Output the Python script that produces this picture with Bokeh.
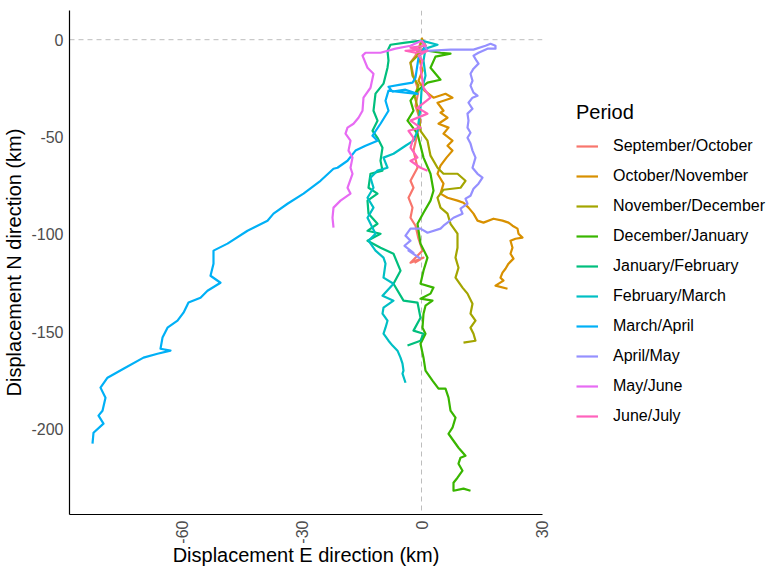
from bokeh.plotting import figure
from bokeh.layouts import row
from bokeh.models import Range1d, Span, Legend, LegendItem, FixedTicker
from bokeh.embed import file_html
from bokeh.resources import INLINE
import math

# Drift tracks: cumulative displacement (km) east (E) and north (N) per period
periods = ["September/October", "October/November", "November/December",
           "December/January", "January/February", "February/March",
           "March/April", "April/May", "May/June", "June/July"]
colors = ["#F8766D", "#D89000", "#A3A500", "#39B600", "#00BF7D",
          "#00BFC4", "#00B0F6", "#9590FF", "#E76BF3", "#FF62BC"]

sep_oct_e = [0, -1.5, -2.75, -2, -0.75, -1.5, -0.25, -2, -1, -2.75, -2, -3.25,
             -2.25, -2.75, -1.5, -0.75, 0.25, -2.75, 0.5, -1.75]
sep_oct_n = [-0.5, -8.2, -11.8, -18.5, -26.2, -34, -41.6, -57, -65.8, -72.5,
             -76.1, -81.2, -86.3, -91.5, -95.6, -102.3, -108.4, -114.6, -112, -114.6]

oct_nov_e = [0, 1, -0.75, 0.25, -0.75, 0.75, 3, 6, 7.75, 4,
             5.5, 4.75, 6.5, 4.25, 6.75, 5.5, 7.75, 6.5, 7.75, 6.25,
             4.75, 4, 5.5, 4.75, 6.5, 9, 10.5, 11.75, 13, 14,
             15.5, 18, 20.25, 21.75, 22.75, 24, 24.25, 25.25, 23.5, 22.25,
             22.75, 22.25, 23, 21.75, 21, 20.25, 19.75, 20.5, 18.5, 21.5]
oct_nov_n = [1, -3.1, -8.2, -15.9, -21.1, -26.2, -29.8, -27.8, -29.8, -32.4,
             -36.5, -37.5, -40.1, -43.2, -45.2, -48.3, -51.9, -54.5, -57, -60.6,
             -64.7, -68.9, -74, -79.1, -81.2, -82.7, -83.8, -86.3, -89.4, -93,
             -94, -92, -93, -94, -95.6, -97.1, -99.7, -101.7, -102.3, -103.3,
             -106.9, -110, -112.5, -115.1, -117.7, -119.7, -122.3, -123.8, -126.4, -128]

nov_dec_e = [0, -1, -2.75, -2.25, -0.75, -1.75, -0.75, -0.25, 1.5, 2.25, 4,
             5.5, 9, 11, 9.75, 5.5, 4, 4.75, 6.5, 7.25, 9, 9, 8.5, 9.25, 8.5,
             10.25, 11.5, 12.75, 12.25, 13.5, 12.25, 13, 13.5, 10.5]
nov_dec_n = [-0.5, -8.2, -11.8, -18.5, -23.6, -28.8, -36.5, -46.8, -51.9,
             -59.6, -65.8, -68.9, -68.9, -72.5, -76.1, -77.1, -81.2, -86.3,
             -89.4, -94.6, -99.7, -106.9, -112, -117.2, -122.3, -127.4, -130.5,
             -135.7, -140.8, -144.4, -148, -151.1, -154.7, -155.7]

dec_jan_e = [0, 1.5, 4.75, 7.25, 3.5, 2.25, 4.75, 1.5, -1, -2.75, -2, -3.5, -1,
             0.5, 2.25, 3, 2.25, 0.5, -1, -0.25, 1.5, 0.5, -0.25, 3, 2.25, -0.25,
             2.75, 1, 0.5, 0.25, 1, -0.25, 0.5, 1, 2.75, 4.25, 6, 6.75, 7.25,
             8.5, 7.75, 6.75, 8, 9.25, 11, 9.75, 9.25, 10.25, 9, 8, 8, 10.5, 12.25]
dec_jan_n = [-0.5, -5.7, -6.7, -7.2, -8.7, -14.4, -20.6, -22.1, -26.2, -31.3,
             -36.5, -41.6, -48.3, -60.6, -68.9, -77.6, -82.7, -88.9, -94.6,
             -104.8, -112, -118.7, -125.4, -127.4, -130.5, -133.1,
             -134.1, -136.7, -140.8, -148, -151.1, -156.2, -163.4, -170.1, -175.2,
             -179.3, -179.3, -183.9, -190.6, -194.2, -199.4, -202.5, -206.1,
             -209.7, -213.8, -214.8, -217.9, -221.5, -225.1, -227.7, -231.8,
             -230.7, -231.8]

jan_feb_e = [0, -4, -7.75, -8.5, -8.25, -8.5, -9.5, -11.5, -12, -11, -12.25,
             -11, -9.75, -10.25, -9.75, -12.75, -13.25, -11, -13.5, -13.25,
             -11, -13.5, -10.25, -13.5, -10.25, -7, -5.25, -7, -4.5, -1,
             -0.25, -2, 0.5, -0.25, -3.5]
jan_feb_n = [-0.5, -1.5, -2.6, -5.7, -10.8, -14.4, -22.6, -27.7, -36.5, -41.6,
             -46.8, -50.4, -55.5, -62.2, -67.3, -68.9, -76.1, -79.1, -82.7,
             -89.4, -94.6, -98.2, -99.7, -103.3, -106.9, -110, -118.7, -125.4,
             -134.1, -135.1, -142.9, -149.5, -151.1, -154.7, -157.2]

feb_mar_e = [0, 4, 1, 0.5, 1, 0, -0.25, -1, -2, -4, -7, -9.5, -8.5, -11,
             -12.75, -12, -13.5, -12, -13.5, -11.5, -13.25, -11.5, -9.5, -9,
             -9.5, -7, -9.75, -7, -9.5, -9.75, -8.5, -9, -9.5, -8.25, -7.25,
             -6, -5.25, -4.75, -4.5, -4.75, -4]
feb_mar_n = [-0.5, -2.6, -4.6, -10.8, -18.5, -26.2, -34.9, -46.8, -51.9,
             -54.5, -58.6, -60.6, -65.8, -67.3, -70.9, -76.1, -81.2, -86.3,
             -91.5, -99.7, -103.3, -108.4, -112, -115.1, -122.3, -125.4,
             -131.6, -134.1, -137.7, -140.8, -144.4, -148, -151.1, -154.7,
             -157.2, -159.8, -163.4, -166.5, -170.1, -171.6, -176.3]

mar_apr_e = [0, 1, -0.75, -1.5, -2.25, -5.25, -8.25, -7.25, -4, -1, -4, -8.25,
             -9, -8.25, -10.25, -12.25, -11, -14, -16.5, -18.5, -21, -22,
             -25.25, -29.5, -33.5, -37, -38.5, -43.5, -48.5, -52, -52, -52.75,
             -50.25, -53.5, -55.25, -58.25, -59.5, -61, -63.5, -64.75, -65.25,
             -62.75, -66, -69.5, -74.5, -78.5, -80.25, -79, -79.75, -80.75,
             -79.5, -82, -82.25]
mar_apr_n = [-0.5, -3, -9.3, -19.5, -22.1, -23.1, -24.2, -26.7, -25.7, -27.8,
             -27.2, -26.2, -31.4, -36.5, -43.2, -49.3, -51.9, -54.5, -57,
             -62.2, -65.8, -66.3, -72.5, -79.1, -84.3, -89.4, -93, -98.2,
             -104.8, -108.4, -115.1, -121.3, -124.9, -129, -132.6, -135.1,
             -140.3, -144.4, -148, -153.1, -158.8, -159.8, -161.4, -163.4,
             -169.1, -173.7, -178.8, -184, -190.7, -193.2, -197.3, -202, -207.6]

apr_may_e = [0, 1.5, 7.25, 13, 16, 17.25, 18.5, 18.5, 16.5, 14.25,
             13, 13.75, 14.25, 13, 12.25, 12.75, 12.25, 13, 14, 12.75,
             11.75, 12.75, 11.5, 11.75, 11.5, 12.25, 11.5, 12.25, 12.75, 13.5,
             12.75, 14, 15.25, 14.25, 13, 12.25, 11, 11.5, 9.75, 10.25,
             8, 6.5, 5.5, 4.75, 1.5, -0.25, -2.75, -4, -2.75, -4.25,
             -2, -3.25, -0.25]
apr_may_n = [-0.5, -5.7, -5.1, -5.1, -3.1, -2.1, -3.1, -4.6, -4.6, -6.7,
             -8.2, -10.8, -12.3, -14.9, -17.5, -21.1, -23.6, -27.2, -28.8, -29.8,
             -32.4, -35.5, -38, -41.6, -45.2, -47.8, -50.4, -53.4, -57, -60.6,
             -65.8, -68.9, -70.9, -74, -76.6, -80.2, -81.7, -84.3, -86.8, -89.4,
             -91.5, -94, -95.6, -97.1, -99.2, -97.1, -97.1, -100.7, -103.3, -105.9,
             -109.5, -108.4, -112.5]

may_jun_e = [0, -2.75, -6.5, -10.25, -14, -14.75, -13.5, -12, -12.75, -14.5,
             -14.75, -15.75, -17, -18.5, -19, -17.75, -18.25, -17.25, -17.75,
             -17.25, -18.5, -17.75, -20.25, -22, -22.25, -22]
may_jun_n = [-0.5, -3.1, -4.6, -6.7, -6.7, -8.2, -14.4, -17.5, -24.7, -29.8,
             -36.5, -40.1, -43.2, -45.2, -48.3, -51.9, -57, -60.6, -65.8,
             -68.9, -76.1, -79.1, -82.7, -86.3, -91.5, -96.6]

jun_jul_e = [0, 1, -2.75, -0.25, -4, -1.5, 1.5, -0.75, 0.25, -0.25, 0.5, 2.25,
             -1, 1.5, -2.75, -0.25, -3.25, -2, -2.75, -1, -2.75, -0.25, 1.5]
jun_jul_n = [-0.5, -3.1, -4.1, -5.1, -5.7, -6.7, -5.7, -8.2, -10.8, -14.4,
             -24.7, -29.8, -35, -38, -41.6, -45.2, -46.8, -50.4, -55.5, -60.6,
             -62.2, -65.8, -67.3]

tracks_e = [sep_oct_e, oct_nov_e, nov_dec_e, dec_jan_e, jan_feb_e,
            feb_mar_e, mar_apr_e, apr_may_e, may_jun_e, jun_jul_e]
tracks_n = [sep_oct_n, oct_nov_n, nov_dec_n, dec_jan_n, jan_feb_n,
            feb_mar_n, mar_apr_n, apr_may_n, may_jun_n, jun_jul_n]

x_ticks = [-60, -30, 0, 30]
y_ticks = [0, -50, -100, -150, -200]

FONT = "Liberation Sans"

p = figure(frame_width=473, frame_height=504,
           x_range=Range1d(-88, 30.25), y_range=Range1d(-244, 15),
           output_backend="svg", toolbar_location=None,
           min_border_left=69, min_border_right=12,
           min_border_top=10, min_border_bottom=52,
           background_fill_color="white", border_fill_color="white",
           outline_line_color=None)

p.xgrid.visible = False
p.ygrid.visible = False

# Zero reference lines
for dim in ("height", "width"):
    p.add_layout(Span(location=0, dimension=dim, line_color="#BDBDBD",
                      line_width=1, line_dash="5 4", level="underlay"))

for col, xs, ys in zip(colors, tracks_e, tracks_n):
    p.line(xs, ys, line_color=col, line_width=2.2, line_join="round")

for ax, ticks in ((p.xaxis[0], x_ticks), (p.yaxis[0], y_ticks)):
    ax.ticker = FixedTicker(ticks=ticks)
    ax.major_label_overrides = {t: str(t) for t in ticks}
    ax.axis_line_color = "black"
    ax.axis_line_width = 1.2
    ax.major_tick_line_color = None
    ax.major_tick_out = 0
    ax.major_tick_in = 0
    ax.minor_tick_line_color = None
    ax.major_label_text_font = FONT
    ax.major_label_text_font_size = "16px"
    ax.major_label_text_color = "#4D4D4D"
    ax.major_label_standoff = 6
    ax.axis_label_text_font = FONT
    ax.axis_label_text_font_size = "20px"
    ax.axis_label_text_font_style = "normal"
    ax.axis_label_text_color = "black"

p.xaxis[0].major_label_orientation = math.pi / 2
p.xaxis[0].axis_label = "Displacement E direction (km)"
p.xaxis[0].axis_label_standoff = -3
p.yaxis[0].axis_label = "Displacement N direction (km)"
p.yaxis[0].axis_label_standoff = 3

# Legend panel beside the plot; key lines sit outside its visible range
leg = figure(width=215, height=566, x_range=Range1d(0, 1), y_range=Range1d(0, 1),
             x_axis_type=None, y_axis_type=None, output_backend="svg",
             toolbar_location=None, min_border=0, outline_line_color=None,
             background_fill_color="white", border_fill_color="white")
items = []
for name, col in zip(periods, colors):
    r = leg.line([5, 6], [5, 6], line_color=col, line_width=2.2)
    items.append(LegendItem(label=name, renderers=[r]))

legend = Legend(items=items, location=(12, 76), title="Period",
                title_text_font=FONT, title_text_font_size="20px",
                title_text_font_style="normal", title_standoff=12,
                title_text_color="black",
                label_text_font=FONT, label_text_font_size="16px",
                label_text_color="black",
                glyph_width=22, glyph_height=20, label_height=20,
                label_standoff=15, spacing=10, padding=10, margin=0,
                border_line_alpha=0, background_fill_alpha=0)
leg.add_layout(legend, "center")

layout = row(p, leg, spacing=0)
open("out.html", "w").write(file_html(layout, INLINE))
